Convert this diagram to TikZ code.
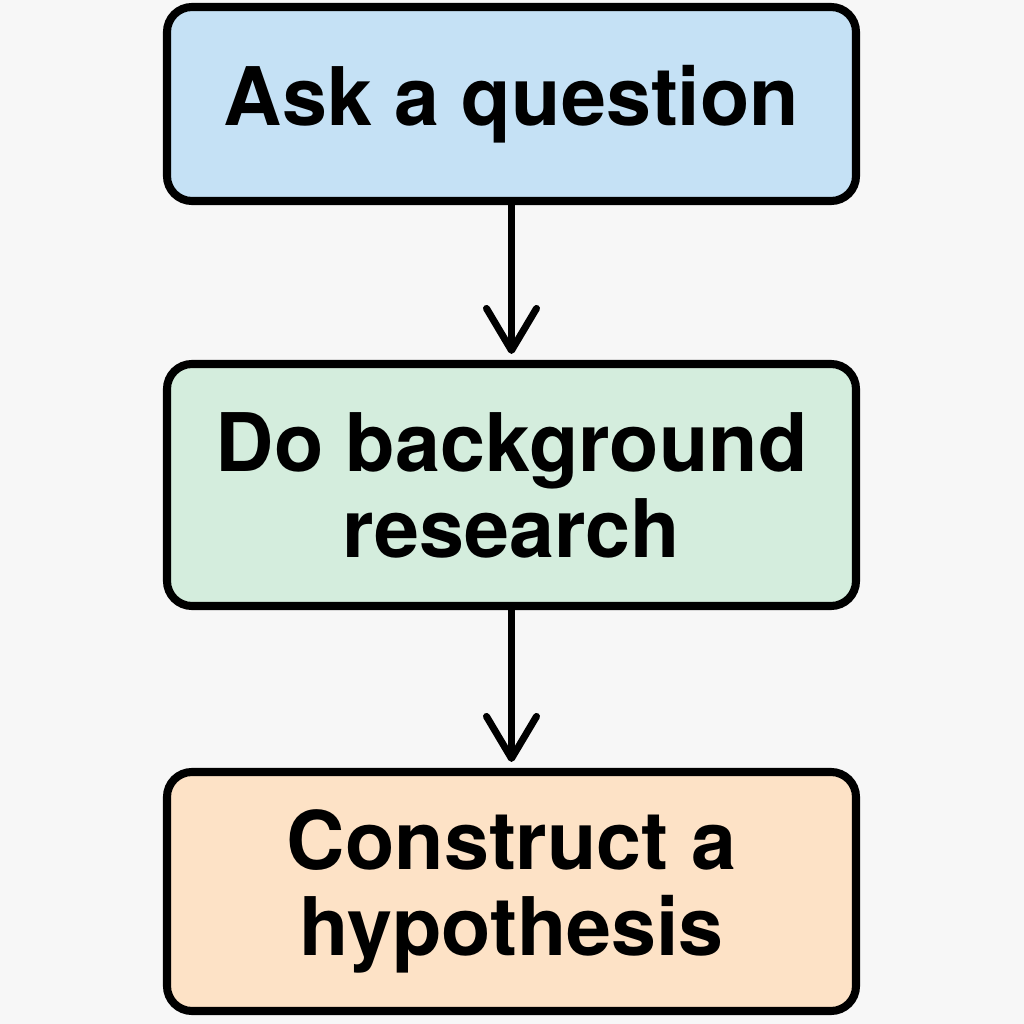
\documentclass[tikz,border=0pt]{standalone}
\usepackage{fontspec}
\setmainfont{TeX Gyre Heros}
\usepackage{xcolor}
\usepackage{tikz}
\usetikzlibrary{arrows.meta}

\definecolor{bggray}{HTML}{F7F7F7}
\definecolor{askblue}{HTML}{C5E1F5}
\definecolor{researchgreen}{HTML}{D4EDDD}
\definecolor{hypoorange}{HTML}{FDE2C6}

\begin{document}
\begin{tikzpicture}[
  stepbox/.style={draw=black,line width=2.3pt,rounded corners=0.25cm,
    minimum width=6.89cm,align=center,
    font=\fontsize{23}{24.5}\selectfont\bfseries},
  flow/.style={line width=2pt,-{Straight Barb[length=4.2mm,width=5mm,line cap=round,line join=round]},shorten >=0.6mm}]
  \fill[bggray] (0,0) rectangle (10.24,10.24);
  \useasboundingbox (0,0) rectangle (10.24,10.24);
  \node[stepbox,fill=askblue,minimum height=1.94cm] (ask) at (5.115,9.20) {Ask a question};
  \node[stepbox,fill=researchgreen,minimum height=2.42cm] (research) at (5.115,5.39) {Do background\\research};
  \node[stepbox,fill=hypoorange,minimum height=2.39cm] (hypo) at (5.115,1.325) {Construct a\\hypothesis};
  \draw[flow] (ask) -- (research);
  \draw[flow] (research) -- (hypo);
\end{tikzpicture}
\end{document}
